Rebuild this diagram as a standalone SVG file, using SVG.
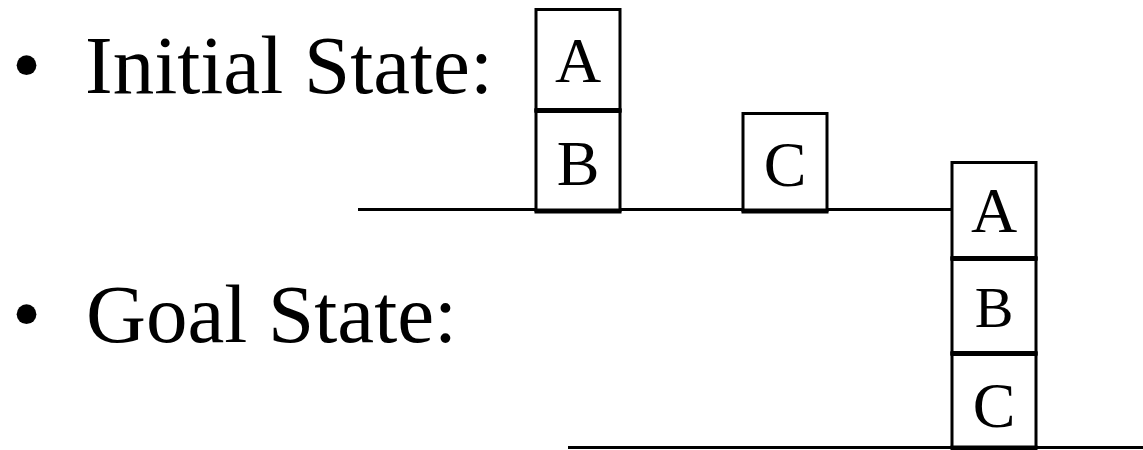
<svg xmlns="http://www.w3.org/2000/svg" width="1143" height="450" viewBox="0 0 1143 450">
  <style>
    .label { font-family: "Liberation Serif", "Times New Roman", serif; fill: #000; font-size: 83px; }
    .blk rect { fill: #fff; stroke: #000; stroke-width: 3; }
    .blk text { font-family: "Liberation Serif", "Times New Roman", serif; font-size: 64px; text-anchor: middle; fill: #000; }
    .blk text.small { font-size: 58px; }
    .ground { stroke: #000; stroke-width: 3; }
    .base { stroke: #000; stroke-width: 5; }
  </style>
  <rect width="1143" height="450" fill="#fff"/>

  <!-- headings -->
  <text class="label" x="12" y="93">•</text>
  <text class="label" x="85" y="93">Initial State:</text>
  <text class="label" x="12" y="342">•</text>
  <text class="label" x="86" y="342">Goal State:</text>

  <!-- tables -->
  <g id="tables">
    <line class="ground" x1="358" y1="209.5" x2="952" y2="209.5"/>
    <line class="ground" x1="568" y1="447.5" x2="1143" y2="447.5"/>
  </g>

  <!-- initial state: A on B, C on table -->
  <g id="init-A" class="blk">
    <rect x="536" y="9.5" width="84" height="101"/>
    <text x="578" y="82">A</text>
  </g>
  <g id="init-B" class="blk">
    <rect x="536" y="110.5" width="84" height="100"/>
    <text x="578" y="185">B</text>
  </g>
  <g id="init-C" class="blk">
    <rect x="743" y="113.5" width="84" height="97"/>
    <text x="785" y="186">C</text>
  </g>

  <!-- goal state: A on B on C -->
  <g id="goal-A" class="blk">
    <rect x="952" y="162.5" width="84" height="96"/>
    <text x="994" y="232">A</text>
  </g>
  <g id="goal-B" class="blk">
    <rect x="952" y="258.5" width="84" height="95"/>
    <text class="small" x="994" y="327">B</text>
  </g>
  <g id="goal-C" class="blk">
    <rect x="952" y="353.5" width="84" height="94"/>
    <text x="994" y="427">C</text>
  </g>

  <!-- support edges where blocks rest -->
  <g id="supports">
    <line class="base" x1="534.5" y1="110.5" x2="621.5" y2="110.5"/>
    <line class="base" x1="534.5" y1="211" x2="621.5" y2="211"/>
    <line class="base" x1="741.5" y1="211" x2="828.5" y2="211"/>
    <line class="base" x1="950.5" y1="258.5" x2="1037.5" y2="258.5"/>
    <line class="base" x1="950.5" y1="353.5" x2="1037.5" y2="353.5"/>
    <line class="base" x1="950.5" y1="448" x2="1037.5" y2="448"/>
  </g>
</svg>
